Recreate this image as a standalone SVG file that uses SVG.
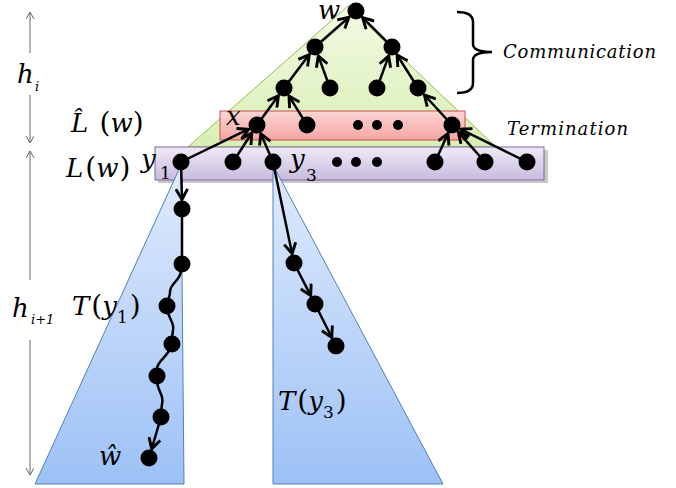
<svg xmlns="http://www.w3.org/2000/svg" width="676" height="488" viewBox="0 0 676 488">
<style>
.m{font-family:"DejaVu Serif","Liberation Serif",serif;font-style:italic;fill:#000}
.u{font-style:normal}
.n{fill:#000}
.e{stroke:#000;stroke-width:2.5;fill:none}
.ea{stroke:#000;stroke-width:2.5;fill:none;marker-end:url(#ah)}
.h{stroke:#666;stroke-width:1;fill:none}
</style>
<defs>
<marker id="ah" markerUnits="userSpaceOnUse" markerWidth="14" markerHeight="14" viewBox="0 0 12 12" refX="10" refY="6" orient="auto">
<path d="M1,1 L10,6 L1,11" fill="none" stroke="#000" stroke-width="2.5"/>
</marker>
<marker id="hu" markerUnits="userSpaceOnUse" markerWidth="8" markerHeight="10" viewBox="0 0 8 10" refX="7" refY="4" orient="auto">
<path d="M0,0 L7,4 L0,8" fill="none" stroke="#666" stroke-width="1"/>
</marker>
<linearGradient id="gG" x1="0" y1="0" x2="0" y2="1"><stop offset="0" stop-color="#f2fae4"/><stop offset="1" stop-color="#d9efb4"/></linearGradient>
<linearGradient id="gR" x1="0" y1="0" x2="0" y2="1"><stop offset="0" stop-color="#fcd6d5"/><stop offset="1" stop-color="#f6a5a3"/></linearGradient>
<linearGradient id="gP" x1="0" y1="0" x2="0" y2="1"><stop offset="0" stop-color="#eeeaf6"/><stop offset="1" stop-color="#c8bbdf"/></linearGradient>
<linearGradient id="gB" x1="0" y1="0" x2="0" y2="1"><stop offset="0" stop-color="#e0ebfc"/><stop offset="1" stop-color="#9dc1f6"/></linearGradient>
</defs>

<g id="regions">
<polygon id="greenTri" points="348,6 188,147 496,147" fill="url(#gG)" stroke="#9bbb59" stroke-width="1"/>
<rect id="redBand" x="220" y="111" width="245" height="29" fill="url(#gR)" stroke="#c0504d" stroke-width="1"/>
<rect x="158" y="150" width="390" height="33" fill="#888" opacity="0.45"/>
<rect id="purpleBand" x="155" y="147" width="389" height="33" fill="url(#gP)" stroke="#8064a2" stroke-width="1"/>
<polygon id="T1" points="181,165 184,484 35,484" fill="url(#gB)" stroke="#4f81bd" stroke-width="1"/>
<polygon id="T3" points="273,165 273,484 443,484" fill="url(#gB)" stroke="#4f81bd" stroke-width="1"/>
</g>

<g id="heights">
<line class="h" x1="30" y1="53" x2="30" y2="12" marker-end="url(#hu)"/>
<line class="h" x1="30" y1="95" x2="30" y2="143" marker-end="url(#hu)"/>
<line class="h" x1="30" y1="280" x2="30" y2="151" marker-end="url(#hu)"/>
<line class="h" x1="30" y1="340" x2="30" y2="475" marker-end="url(#hu)"/>
<text class="m" x="17" y="83" font-size="26">h</text>
<text class="m" x="35" y="91" font-size="13">i</text>
<text class="m" x="12" y="317" font-size="26">h</text>
<text class="m" x="31" y="324" font-size="13">i+1</text>
</g>

<g id="connectors">
<line class="ea" x1="315" y1="47" x2="348.9" y2="17.3"/>
<line class="ea" x1="392" y1="47" x2="362.7" y2="17.7"/>
<line class="ea" x1="284" y1="88" x2="309.3" y2="54.6"/>
<line class="ea" x1="330" y1="88" x2="318.3" y2="55.9"/>
<line class="ea" x1="377" y1="88" x2="388.7" y2="55.9"/>
<line class="ea" x1="418" y1="88" x2="397.1" y2="55"/>
<line class="ea" x1="257" y1="125" x2="278.4" y2="95.7"/>
<line class="ea" x1="307" y1="125" x2="289" y2="96.1"/>
<line class="ea" x1="452" y1="125" x2="424.4" y2="95"/>
<line class="ea" x1="181" y1="162" x2="248.5" y2="129.2"/>
<line class="ea" x1="233" y1="162" x2="251.8" y2="133"/>
<line class="ea" x1="273" y1="162" x2="260.8" y2="133.7"/>
<line class="ea" x1="435" y1="162" x2="448" y2="133.6"/>
<line class="ea" x1="485" y1="162" x2="458.3" y2="132.1"/>
<line class="ea" x1="527" y1="162" x2="460.5" y2="129.2"/>
<line class="ea" x1="181" y1="162" x2="182" y2="199.5"/>
<path class="e" d="M182,209 L182,264"/>
<path class="e" d="M182,264 C182,282 170,282 170,292 C170,298 167,300 167,306"/>
<path class="e" d="M167,306 C167,318 175,322 173,330 C172,336 172,340 172,344"/>
<path class="e" d="M172,344 C170,355 158,360 157,368 C156,372 157,374 157,376"/>
<path class="e" d="M157,376 C155,390 165,394 162,404 C161,410 161,414 161,417"/>
<line class="ea" x1="161" y1="417" x2="151.7" y2="448.9"/>
<line class="ea" x1="273" y1="162" x2="292.1" y2="253.7"/>
<line class="ea" x1="294" y1="263" x2="310.7" y2="295.6"/>
<line class="ea" x1="315" y1="304" x2="331.8" y2="337.5"/>
<path class="e" d="M457,12 Q473,12 473,22 L473,44 Q473,52 492,52 Q473,52 473,60 L473,83 Q473,93 457,93"/>
</g>

<g id="nodes">
<g id="w"><circle class="n" cx="356" cy="11" r="8.5"/><text class="m" x="318" y="19" font-size="26">w</text></g>
<g id="a1"><circle class="n" cx="315" cy="47" r="8.5"/></g>
<g id="a2"><circle class="n" cx="392" cy="47" r="8.5"/></g>
<g id="b1"><circle class="n" cx="284" cy="88" r="8.5"/></g>
<g id="b2"><circle class="n" cx="330" cy="88" r="8.5"/></g>
<g id="b3"><circle class="n" cx="377" cy="88" r="8.5"/></g>
<g id="b4"><circle class="n" cx="418" cy="88" r="8.5"/></g>
<g id="x"><circle class="n" cx="257" cy="125" r="8.5"/><text class="m" x="226" y="125" font-size="26">x</text></g>
<g id="c2"><circle class="n" cx="307" cy="125" r="8.5"/></g>
<g id="cdots"><circle class="n" cx="358" cy="125" r="5"/><circle class="n" cx="377" cy="125" r="5"/><circle class="n" cx="398" cy="125" r="5"/></g>
<g id="c3"><circle class="n" cx="452" cy="125" r="8.5"/></g>
<g id="y1"><circle class="n" cx="181" cy="162" r="8.5"/><text class="m" x="141" y="168" font-size="26">y</text><text class="m u" x="160" y="179" font-size="17">1</text></g>
<g id="d2"><circle class="n" cx="233" cy="162" r="8.5"/></g>
<g id="y3"><circle class="n" cx="273" cy="162" r="8.5"/><text class="m" x="290" y="168" font-size="26">y</text><text class="m u" x="306" y="181" font-size="17">3</text></g>
<g id="ddots"><circle class="n" cx="337" cy="162" r="5"/><circle class="n" cx="356" cy="162" r="5"/><circle class="n" cx="377" cy="162" r="5"/></g>
<g id="d4"><circle class="n" cx="435" cy="162" r="8.5"/></g>
<g id="d5"><circle class="n" cx="485" cy="162" r="8.5"/></g>
<g id="d6"><circle class="n" cx="527" cy="162" r="8.5"/></g>
<g id="p1"><circle class="n" cx="182" cy="209" r="8.5"/></g>
<g id="p2"><circle class="n" cx="182" cy="264" r="8.5"/></g>
<g id="p3"><circle class="n" cx="167" cy="306" r="8.5"/></g>
<g id="p4"><circle class="n" cx="172" cy="344" r="8.5"/></g>
<g id="p5"><circle class="n" cx="157" cy="376" r="8.5"/></g>
<g id="p6"><circle class="n" cx="161" cy="417" r="8.5"/></g>
<g id="what"><circle class="n" cx="149" cy="458" r="8.5"/><text class="m" x="99" y="465" font-size="26">ŵ</text></g>
<g id="q1"><circle class="n" cx="294" cy="263" r="8.5"/></g>
<g id="q2"><circle class="n" cx="315" cy="304" r="8.5"/></g>
<g id="q3"><circle class="n" cx="336" cy="346" r="8.5"/></g>
</g>

<g id="labels">
<text class="m" x="71" y="132" font-size="26">L̂ <tspan class="u" font-size="28" dx="3">(</tspan>w<tspan class="u" font-size="28">)</tspan></text>
<text class="m" x="66" y="177" font-size="26">L<tspan class="u" font-size="28" dx="2">(</tspan>w<tspan class="u" font-size="28" dx="1">)</tspan></text>
<text class="m" x="72" y="315" font-size="26">T<tspan class="u" font-size="28" dx="2">(</tspan>y<tspan font-size="17" class="u" dy="8">1</tspan><tspan class="u" font-size="28" dy="-8" dx="2">)</tspan></text>
<text class="m" x="278" y="410" font-size="26">T<tspan class="u" font-size="28" dx="2">(</tspan>y<tspan font-size="17" class="u" dy="8">3</tspan><tspan class="u" font-size="28" dy="-8" dx="2">)</tspan></text>
<text class="m" x="503" y="58" font-size="18" textLength="153" lengthAdjust="spacing">Communication</text>
<text class="m" x="507" y="135" font-size="18" textLength="121" lengthAdjust="spacing">Termination</text>
</g>
</svg>
